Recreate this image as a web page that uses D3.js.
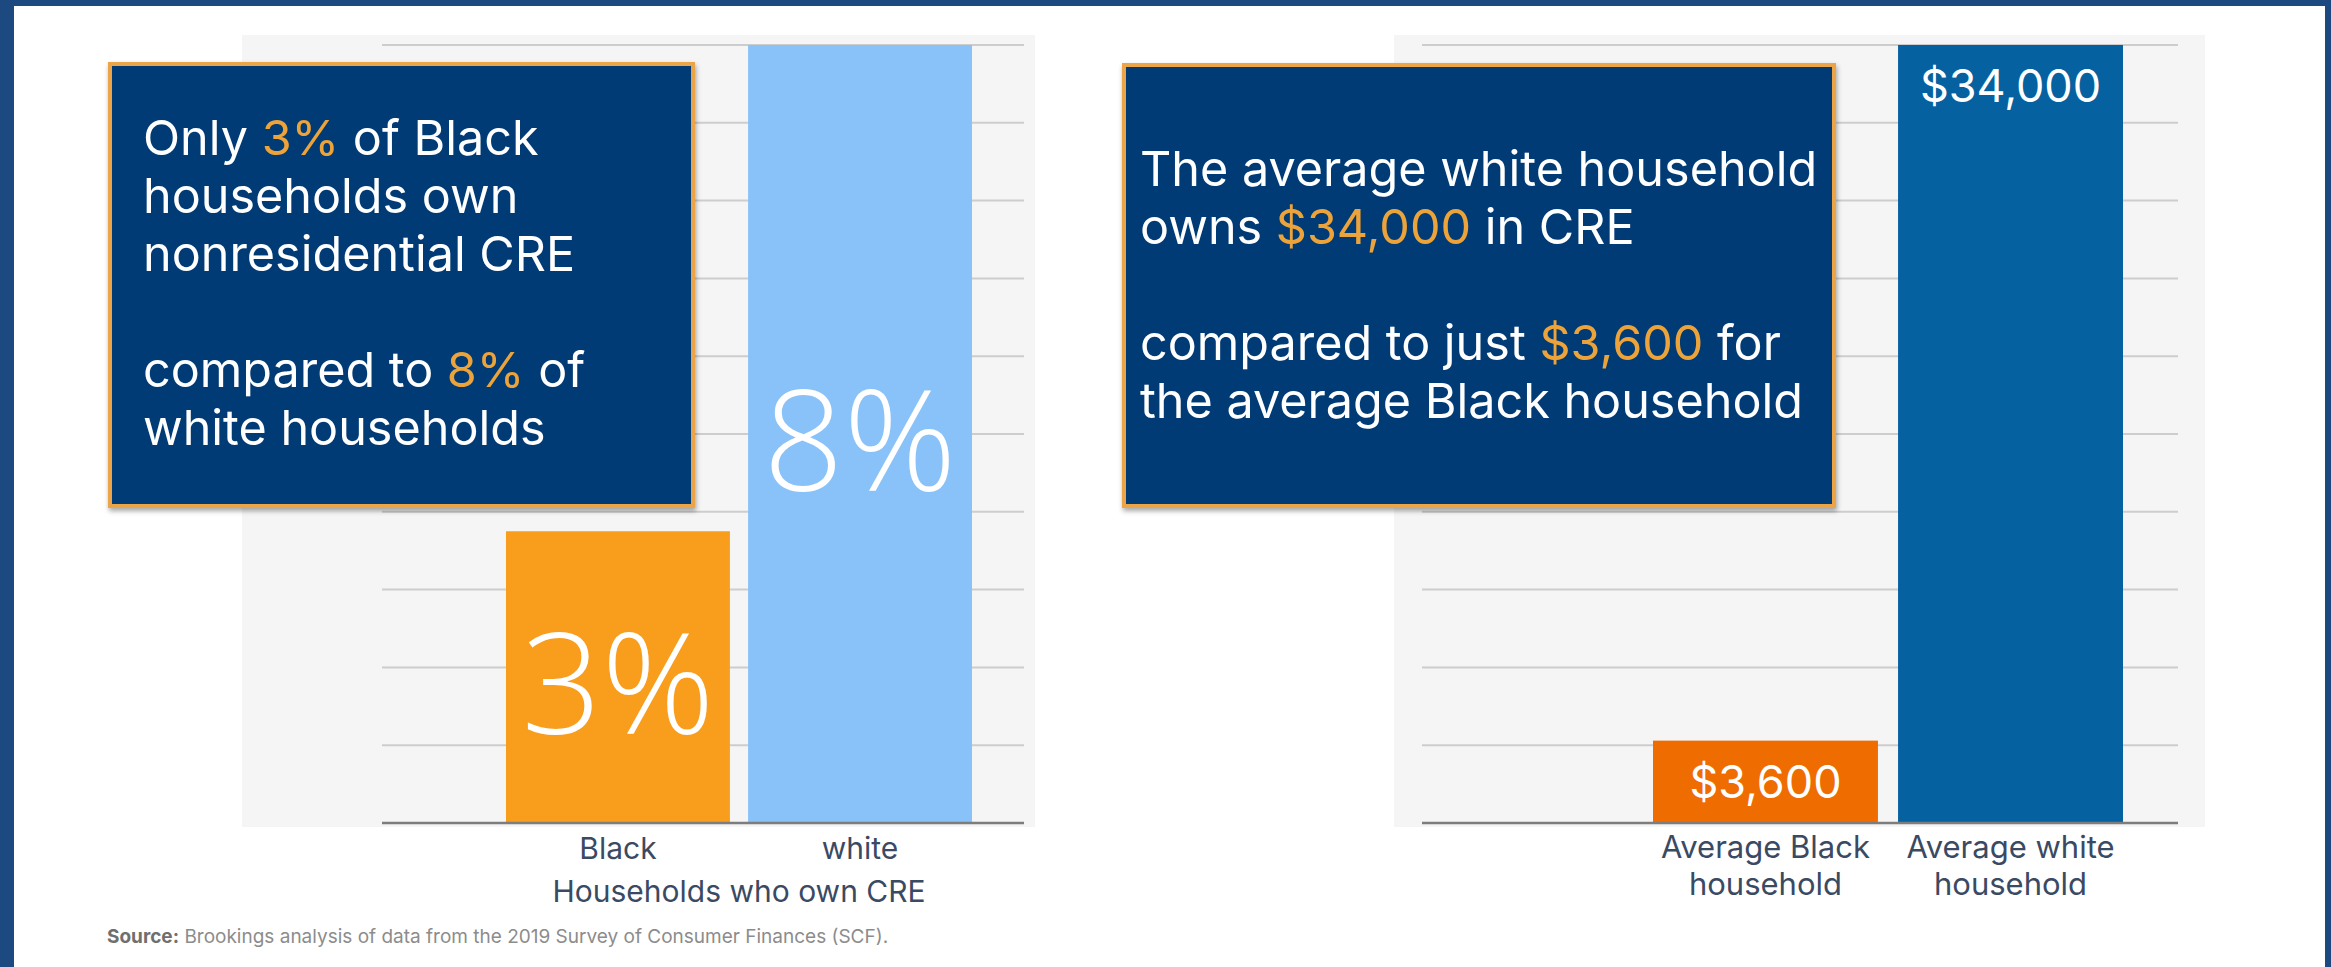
<!DOCTYPE html>
<html>
<head>
<meta charset="utf-8">
<script src="https://cdn.jsdelivr.net/npm/d3@7"></script>
<style>
  html, body { margin: 0; padding: 0; background: #1c4a80; }
  svg { display: block; }
</style>
</head>
<body>
<svg id="chart" width="2331" height="967"></svg>
<script>
// ---- Data -------------------------------------------------------------
// Share of households that own nonresidential commercial real estate (%)
const shareCategories = ["Black", "white"];
const shareValues = [3, 8];
const shareAxisTitle = "Households who own CRE";

// Average CRE holdings per household (US$)
const amountCategories = ["Average Black household", "Average white household"];
const amountLines = [["Average Black", "household"], ["Average white", "household"]];
const amountValues = [3600, 34000];

// Callout copy; {…} marks the highlighted figures
const shareNote = [
  "Only {3%} of Black",
  "households own",
  "nonresidential CRE",
  "",
  "compared to {8%} of",
  "white households"
];
const amountNote = [
  "The average white household",
  "owns {$34,000} in CRE",
  "",
  "compared to just {$3,600} for",
  "the average Black household"
];
const sourceLabel = "Source:";
const sourceText = " Brookings analysis of data from the 2019 Survey of Consumer Finances (SCF).";

// ---- Layout & style ----------------------------------------------------
const W = 2331, H = 967;
const FONT = "Inter, 'Noto Sans', sans-serif";
const C = {
  frame: "#1c4a80",
  panel: "#ffffff",
  plotBg: "#f5f5f5",
  grid: "#cdcdcd",
  base: "#7d7d7d",
  navy: "#033a76",
  noteBorder: "#eba447",
  highlight: "#eca33a",
  axis: "#3b4a63",
  source: "#8c8c8c",
  shareBars: ["#f99d1c", "#89c2f8"],
  amountBars: ["#ef6c00", "#0561a0"]
};

const plotTop = 45, plotBottom = 823;

const svg = d3.select("#chart");

svg.append("rect").attr("x", 0).attr("y", 0).attr("width", W).attr("height", H).attr("fill", C.frame);
svg.append("rect").attr("x", 14).attr("y", 6).attr("width", W - 20).attr("height", H - 6).attr("fill", C.panel);

const defs = svg.append("defs");
const shadow = defs.append("filter").attr("id", "noteShadow")
  .attr("x", "-5%").attr("y", "-5%").attr("width", "112%").attr("height", "115%");
shadow.append("feDropShadow").attr("dx", 1).attr("dy", 3).attr("stdDeviation", 2.5)
  .attr("flood-color", "#000").attr("flood-opacity", 0.35);

// Draws one bar panel: background, gridlines, bars, baseline
function barPanel(opts) {
  const g = svg.append("g");
  const y = d3.scaleLinear().domain([0, opts.max]).range([plotBottom, plotTop]);
  const x = d3.scaleBand().domain(opts.categories).range(opts.barRange).paddingInner(opts.pad);

  g.append("rect")
    .attr("x", opts.bg[0]).attr("y", 35)
    .attr("width", opts.bg[1] - opts.bg[0]).attr("height", 792)
    .attr("fill", C.plotBg);

  const gridVals = d3.range(1, 11).map(i => i * opts.max / 10);
  g.selectAll("line.grid").data(gridVals).join("line")
    .attr("class", "grid")
    .attr("x1", opts.grid[0]).attr("x2", opts.grid[1])
    .attr("y1", d => y(d)).attr("y2", d => y(d))
    .attr("stroke", C.grid).attr("stroke-width", 2);

  g.selectAll("rect.bar").data(opts.values).join("rect")
    .attr("class", "bar")
    .attr("x", (d, i) => x(opts.categories[i]))
    .attr("width", x.bandwidth())
    .attr("y", d => y(d))
    .attr("height", d => y(0) - y(d))
    .attr("fill", (d, i) => opts.colors[i]);

  g.append("line")
    .attr("x1", opts.grid[0]).attr("x2", opts.grid[1])
    .attr("y1", y(0)).attr("y2", y(0))
    .attr("stroke", C.base).attr("stroke-width", 2.5);

  return { g, x, y };
}

// Callout box with multi-line text and highlighted figures
function note(box, lines, textX, firstBaseline) {
  svg.append("rect")
    .attr("x", box[0]).attr("y", box[1]).attr("width", box[2]).attr("height", box[3])
    .attr("fill", C.navy).attr("stroke", C.noteBorder).attr("stroke-width", 4)
    .attr("filter", "url(#noteShadow)");
  const t = svg.append("text")
    .attr("font-family", FONT).attr("font-size", 48.5).attr("fill", "#fff");
  lines.forEach((line, i) => {
    const row = t.append("tspan").attr("x", textX).attr("y", firstBaseline + i * 58);
    line.split(/(\{[^}]*\})/).filter(s => s.length).forEach(part => {
      const hl = part.startsWith("{");
      row.append("tspan")
        .attr("fill", hl ? C.highlight : "#fff")
        .text(hl ? part.slice(1, -1) : part);
    });
    if (!line) row.text("\u00a0");
  });
}

// ---- Left: share of households owning CRE ------------------------------
const left = barPanel({
  categories: shareCategories, values: shareValues, max: 8,
  barRange: [506, 972], pad: 0.075,
  bg: [242, 1035], grid: [382, 1024], colors: C.shareBars
});

left.g.selectAll("text.big").data(shareValues).join("text")
  .attr("class", "big")
  .attr("x", (d, i) => left.x(shareCategories[i]) + left.x.bandwidth() / 2)
  .attr("y", d => left.y(d / 2) + 57)
  .attr("text-anchor", "middle")
  .attr("font-family", "'Open Sans', Lato, sans-serif")
  .attr("font-weight", 300)
  .attr("font-size", 140)
  .attr("fill", "#fff")
  .text(d => d + "%");

left.g.selectAll("text.cat").data(shareCategories).join("text")
  .attr("class", "cat")
  .attr("x", d => left.x(d) + left.x.bandwidth() / 2)
  .attr("y", 859)
  .attr("text-anchor", "middle")
  .attr("font-family", FONT).attr("font-size", 30).attr("fill", C.axis)
  .text(d => d);

left.g.append("text")
  .attr("x", d3.mean(left.x.range()))
  .attr("y", 902)
  .attr("text-anchor", "middle")
  .attr("font-family", FONT).attr("font-size", 30).attr("fill", C.axis)
  .text(shareAxisTitle);

// ---- Right: average CRE holdings --------------------------------------
const right = barPanel({
  categories: amountCategories, values: amountValues, max: 34000,
  barRange: [1653, 2123], pad: 0.082,
  bg: [1394, 2205], grid: [1422, 2178], colors: C.amountBars
});

const money = d3.format("$,");
right.g.selectAll("text.val").data(amountValues).join("text")
  .attr("class", "val")
  .attr("x", (d, i) => right.x(amountCategories[i]) + right.x.bandwidth() / 2)
  .attr("y", d => right.y(d) + 57)
  .attr("text-anchor", "middle")
  .attr("font-family", FONT).attr("font-size", 45).attr("fill", "#fff")
  .text(d => money(d));

amountCategories.forEach((c, i) => {
  const t = right.g.append("text")
    .attr("text-anchor", "middle")
    .attr("font-family", FONT).attr("font-size", 31).attr("fill", C.axis);
  amountLines[i].forEach((ln, j) => {
    t.append("tspan")
      .attr("x", right.x(c) + right.x.bandwidth() / 2)
      .attr("y", 858 + j * 37)
      .text(ln);
  });
});

// ---- Callouts ----------------------------------------------------------
note([110, 64, 583, 442], shareNote, 143, 155);
note([1124, 65, 710, 441], amountNote, 1140, 186);

// ---- Source line -------------------------------------------------------
const src = svg.append("text")
  .attr("x", 107).attr("y", 943)
  .attr("font-family", FONT).attr("font-size", 19).attr("fill", C.source);
src.append("tspan").attr("font-weight", 700).attr("fill", "#6f6f6f").text(sourceLabel);
src.append("tspan").text(sourceText);
</script>
</body>
</html>
